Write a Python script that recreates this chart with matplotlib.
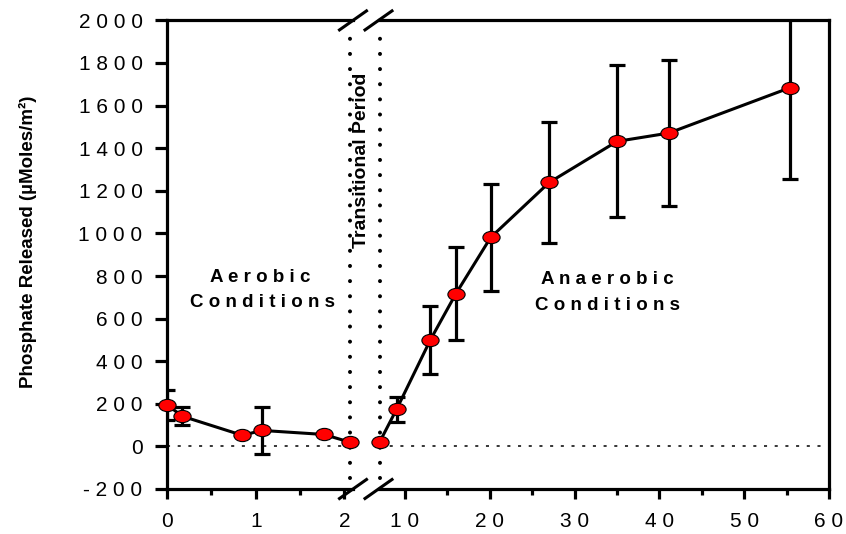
import matplotlib
matplotlib.use('Agg')
import matplotlib.pyplot as plt
from matplotlib.path import Path
from matplotlib.transforms import Affine2D
from matplotlib.lines import Line2D

plt.rcParams['font.family'] = ['Liberation Sans', 'DejaVu Sans']

# ---------------- data ----------------
aer_time = [0.0, 0.17, 0.85, 1.07, 1.77, 2.06]
aer_p = [196, 142, 52, 75, 56, 20]
aer_err = [70, 43, 0, 112, 0, 0]

ana_time = [7.0, 9.0, 13.0, 16.0, 20.1, 27.0, 35.0, 41.1, 55.4]
ana_p = [20, 174, 501, 717, 981, 1239, 1432, 1471, 1684]
ana_err = [0, 60, 160, 219, 251, 282, 357, 344, 427]

yticks = [-200, 0, 200, 400, 600, 800, 1000, 1200, 1400, 1600, 1800, 2000]
ytick_labels = ['- 2 0 0', '0', '2 0 0', '4 0 0', '6 0 0', '8 0 0', '1 0 0 0',
                '1 2 0 0', '1 4 0 0', '1 6 0 0', '1 8 0 0', '2 0 0 0']
x1_ticks = [0, 1, 2]
x1_labels = ['0', '1', '2']
x1_minor = [0.5, 1.5]
x2_ticks = [10, 20, 30, 40, 50, 60]
x2_labels = ['1 0', '2 0', '3 0', '4 0', '5 0', '6 0']
x2_minor = [15, 25, 35, 45, 55]

W, H = 846, 534
fig = plt.figure(figsize=(W / 100, H / 100), dpi=100)

top_px, bot_px = 20.4, 489
ax1 = fig.add_axes([167 / W, 1 - bot_px / H, (353 - 167) / W, (bot_px - top_px) / H])
ax2 = fig.add_axes([379 / W, 1 - bot_px / H, (829 - 379) / W, (bot_px - top_px) / H])

ax1.set_xlim(0, 2.097)
ax2.set_xlim(6.93, 60)
for ax in (ax1, ax2):
    ax.set_ylim(-200, 2000)
    ax.set_facecolor('none')
    for s in ax.spines.values():
        s.set_linewidth(2.3)

ax1.spines['right'].set_visible(False)
ax2.spines['left'].set_visible(False)

ell = Path.unit_circle().transformed(Affine2D().scale(1, 0.71))
mk = dict(marker=ell, markersize=12.4, markerfacecolor='#ff0000',
          markeredgecolor='black', markeredgewidth=0.8)

for ax, t, p, e in ((ax1, aer_time, aer_p, aer_err), (ax2, ana_time, ana_p, ana_err)):
    ax.axhline(0, color='black', lw=1.1, ls=(0, (2, 5)), zorder=1)
    ax.errorbar(t, p, yerr=e, fmt='none', ecolor='black', elinewidth=2.3,
                capsize=6.0, capthick=2.3, zorder=3)
    ax.plot(t, p, color='black', lw=2.2, zorder=4, clip_on=False)
    ax.plot(t, p, linestyle='none', zorder=5, clip_on=False, **mk)

# dotted separators of the transitional period
dot = dict(color='black', lw=2.9, ls=(0, (0.01, 3.75)), dash_capstyle='round', zorder=2,
           clip_on=False)
ax1.plot([2.06, 2.06], [-150, 1960], **dot)
ax2.plot([7.1, 7.1], [-150, 1960], **dot)

# ticks
ax1.set_yticks(yticks)
ax1.set_yticklabels(ytick_labels)
ax2.set_yticks([])
ax1.set_xticks(x1_ticks)
ax1.set_xticklabels(x1_labels)
ax1.set_xticks(x1_minor, minor=True)
ax2.set_xticks(x2_ticks)
ax2.set_xticklabels(x2_labels)
ax2.set_xticks(x2_minor, minor=True)
for ax in (ax1, ax2):
    ax.tick_params(axis='both', which='major', direction='out', width=2.3,
                   labelsize=15, colors='black')
    ax.tick_params(axis='x', which='major', length=7.5, pad=9)
    ax.tick_params(axis='x', which='minor', direction='out', length=4, width=2.3)
    ax.tick_params(axis='y', which='major', length=8.6, pad=9)

# break marks
def fline(x0, y0, x1, y1):
    fig.add_artist(Line2D([x0 / W, x1 / W], [1 - y0 / H, 1 - y1 / H],
                          transform=fig.transFigure, color='black', lw=2.2))

for cx in (353, 378.5):
    fline(cx - 13.5, bot_px + 9.5, cx + 13.5, bot_px - 9.5)
    fline(cx - 13.5, top_px + 9.5, cx + 13.5, top_px - 9.5)

# annotations
txt = dict(fontsize=13.5, fontweight='bold', ha='center', va='center', color='black')
ax1.text(1.05, 793, 'A e r o b i c', **txt)
ax1.text(1.08, 676, 'C o n d i t i o n s', **txt)
ax2.text(33.9, 782, 'A n a e r o b i c', **txt)
ax2.text(33.9, 660, 'C o n d i t i o n s', **txt)

fig.text(361 / W, 1 - 160 / H, 'Transitional Period', rotation=90, ha='center',
         va='center', fontsize=14, fontweight='bold')
fig.text(28 / W, 1 - 242 / H, 'Phosphate Released (\u00b5Moles/m\u00b2)', rotation=90,
         ha='center', va='center', fontsize=13.5, fontweight='bold')

fig.savefig('out.png', dpi=100)
